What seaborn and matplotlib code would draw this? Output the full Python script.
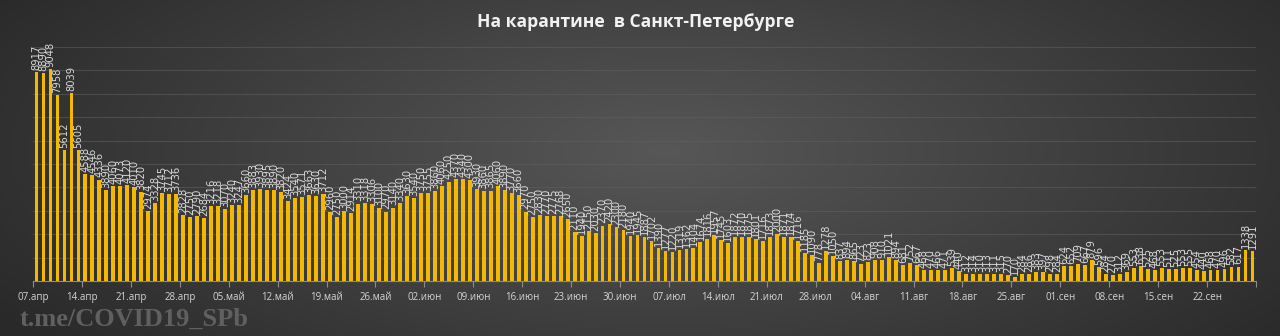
import numpy as np
import pandas as pd
import matplotlib
matplotlib.use("Agg")
import matplotlib.pyplot as plt
import seaborn as sns

# ---- data ----
start_date = "2020-04-07"
values = [
    8917, 8890, 9048, 7958, 5612, 8039, 5605,
    4588, 4546, 4336, 3890, 4060, 4073, 4120,
    4010, 3820, 2974, 3328, 3745, 3712, 3736,
    2828, 2750, 2790, 2684, 3216, 3218, 3070,
    3240, 3247, 3660, 3883, 3930, 3895, 3890,
    3820, 3424, 3540, 3571, 3663, 3630, 3712,
    2960, 2750, 3000, 2914, 3310, 3318, 3306,
    3100, 2970, 3140, 3340, 3630, 3540, 3750,
    3755, 3860, 4060, 4250, 4370, 4340, 4300,
    3930, 3860, 3865, 4060, 3890, 3770, 3660,
    2970, 2750, 2830, 2770, 2775, 2768, 2650,
    2110, 1940, 2150, 2030, 2370, 2420, 2300,
    2180, 1940, 1945, 1887, 1702, 1390, 1277,
    1220, 1319, 1362, 1404, 1674, 1816, 1957,
    1745, 1603, 1872, 1870, 1875, 1801, 1716,
    1873, 2000, 1871, 1874, 1716, 1185, 1090,
    778, 1278, 1050, 837, 894, 865, 723,
    823, 908, 910, 1021, 894, 681, 752,
    667, 468, 470, 466, 471, 539, 440,
    312, 314, 310, 313, 311, 315, 270,
    170, 284, 286, 383, 397, 298, 284,
    624, 652, 709, 667, 879, 596, 284,
    270, 312, 369, 553, 638, 525, 468,
    553, 511, 525, 553, 555, 454, 440,
    468, 470, 496, 582, 617, 1338, 1291,
]
tick_labels = ["07.апр", "14.апр", "21.апр", "28.апр", "05.май", "12.май",
               "19.май", "26.май", "02.июн", "09.июн", "16.июн", "23.июн",
               "30.июн", "07.июл", "14.июл", "21.июл", "28.июл", "04.авг",
               "11.авг", "18.авг", "25.авг", "01.сен", "08.сен", "15.сен",
               "22.сен"]
title = "На карантине  в Санкт-Петербурге"
watermark = "t.me/COVID19_SPb"

dates = pd.date_range(start_date, periods=len(values), freq="D")
df = pd.DataFrame({"date": dates.strftime("%Y-%m-%d"), "value": values})

# ---- figure ----
sns.set_theme(style="dark")
plt.rcParams["font.family"] = ["Open Sans", "DejaVu Sans"]

W, H = 1280, 336
fig = plt.figure(figsize=(W / 100, H / 100), dpi=100)

# background gradient
bg = fig.add_axes([0, 0, 1, 1])
yy, xx = np.mgrid[0:1:200j, 0:1:600j]
r = np.sqrt(((xx - 0.52) / 0.62) ** 2 + ((yy - 0.45) / 0.95) ** 2)
r = np.clip(r, 0, 1)
c_center = np.array([0x57, 0x57, 0x57]) / 255
c_edge = np.array([0x29, 0x29, 0x29]) / 255
img = c_center[None, None, :] * (1 - r[..., None]) + c_edge[None, None, :] * r[..., None]
bg.imshow(img, extent=[0, 1, 0, 1], aspect="auto", origin="upper")
bg.set_axis_off()

ax = fig.add_axes([33 / W, 1 - 281 / H, (1256 - 33) / W, (281 - 47) / H])
ax.set_facecolor("none")
ax.patch.set_alpha(0)

sns.barplot(data=df, x="date", y="value", color="#F5B800", saturation=1,
            width=0.55, ax=ax, zorder=3, edgecolor="none", linewidth=0)
ax.set_xlim(-0.5, len(values) - 0.5)
ax.set_ylim(0, 10000)

# gridlines
ax.set_yticks(np.arange(1000, 10001, 1000))
ax.yaxis.grid(True, color="#606060", linewidth=0.8, alpha=0.55, zorder=0)
ax.xaxis.grid(False)
ax.tick_params(axis="y", left=False, labelleft=False)
for s in ["top", "right", "left"]:
    ax.spines[s].set_visible(False)
ax.spines["bottom"].set_color("#8c8c8c")
ax.spines["bottom"].set_linewidth(0.8)

# x ticks weekly at category boundaries
tick_pos = [i * 7 - 0.5 for i in range(len(tick_labels))] + [len(values) - 0.5]
ax.set_xticks(tick_pos)
ax.set_xticklabels(tick_labels + [""], fontsize=7, color="#d4d4d4")
ax.tick_params(axis="x", bottom=True, length=4, width=0.8, color="#8c8c8c",
               pad=4)
ax.set_xlabel("")
ax.set_ylabel("")

# value labels
ax.bar_label(ax.containers[0], labels=[str(v) for v in values], rotation=90,
             padding=1.5, fontsize=7.2, color="#d8d8d8",
             family=["Liberation Sans Narrow", "DejaVu Sans"])

fig.text(0.497, 1 - 22 / H, title, ha="center", va="center", fontsize=12.6,
         fontweight="bold", color="#f2f2f2")
fig.text(20 / W, 1 - 319 / H, watermark, ha="left", va="center", fontsize=19,
         fontweight="bold", color="#606060",
         family=["Liberation Serif", "DejaVu Serif"])

fig.savefig("out.png", dpi=100)
